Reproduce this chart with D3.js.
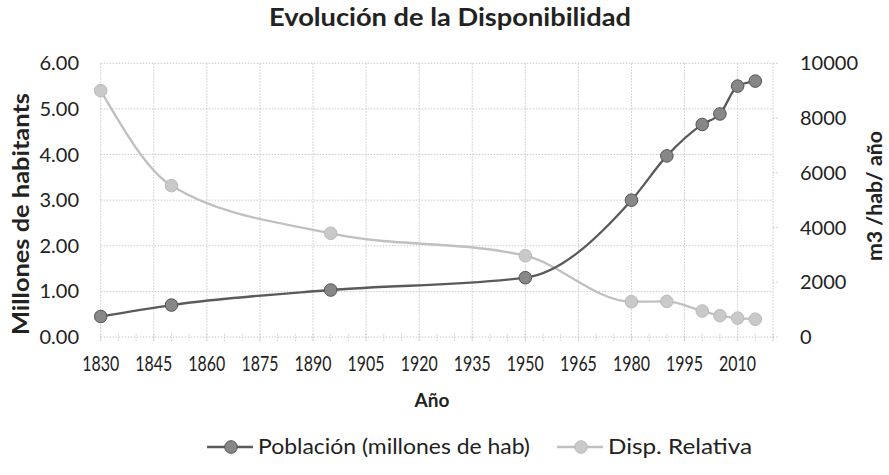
<!DOCTYPE html>
<html><head><meta charset="utf-8">
<script src="https://cdn.jsdelivr.net/npm/d3@7"></script>
<style>body{margin:0;background:#fff}svg{display:block}text{font-family:Lato,"Open Sans",sans-serif;fill:#222}</style>
</head><body>
<svg id="c" width="889" height="475"></svg>
<script>
const years = [1830, 1850, 1895, 1950, 1980, 1990, 2000, 2005, 2010, 2015];
const poblacion = [0.45, 0.70, 1.03, 1.30, 3.00, 3.97, 4.66, 4.89, 5.50, 5.61];
const dispRelativa = [9000, 5530, 3790, 2970, 1290, 1300, 950, 780, 690, 650];
const xTicks = [1830, 1845, 1860, 1875, 1890, 1905, 1920, 1935, 1950, 1965, 1980, 1995, 2010];
const yLeftTicks = [0, 1, 2, 3, 4, 5, 6];
const yRightTicks = [0, 2000, 4000, 6000, 8000, 10000];
const seriesNames = ["Población (millones de hab)", "Disp. Relativa"];

const svg = d3.select("#c");
const L = 100.7, R = 773, T = 63.3, B = 337;
const x = d3.scaleLinear().domain([1830, 2020]).range([L, R]);
const yL = d3.scaleLinear().domain([0, 6]).range([B, T]);
const yR = d3.scaleLinear().domain([0, 10000]).range([B, T]);

const grid = svg.append("g").attr("stroke", "#c8c8c8").attr("stroke-width", 1).attr("stroke-dasharray", "1.5,1.5");
yLeftTicks.forEach(v => grid.append("line").attr("x1", L).attr("x2", R).attr("y1", yL(v)).attr("y2", yL(v)));
xTicks.concat([2020]).forEach(v => grid.append("line").attr("x1", x(v)).attr("x2", x(v)).attr("y1", T).attr("y2", B + 5));
d3.range(1830, 2021, 5).forEach(v => grid.append("line").attr("x1", x(v)).attr("x2", x(v)).attr("y1", B - 3).attr("y2", B + 4));
yRightTicks.forEach(v => grid.append("line").attr("x1", R).attr("x2", R + 5).attr("y1", yR(v)).attr("y2", yR(v)));

// left axis labels
svg.append("g").selectAll("text").data(yLeftTicks).join("text")
  .attr("x", 79).attr("y", d => yL(d)).attr("dy", "0.35em").attr("text-anchor", "end")
  .attr("font-size", 20).text(d => d3.format(".2f")(d));
// right axis labels
svg.append("g").selectAll("text").data(yRightTicks).join("text")
  .attr("x", 800).attr("y", d => yR(d)).attr("dy", "0.35em").attr("text-anchor", "start")
  .attr("font-size", 20).text(d => d);
// x labels
svg.append("g").selectAll("text").data(xTicks).join("text")
  .attr("x", d => x(d)).attr("y", 363).attr("dy", "0.35em").attr("text-anchor", "middle")
  .attr("font-size", 22).attr("textLength", 37).attr("lengthAdjust", "spacingAndGlyphs").text(d => d);

// titles
svg.append("text").attr("x", 450).attr("y", 26).attr("text-anchor", "middle").attr("font-size", 25).attr("font-weight", "bold")
  .attr("textLength", 362).attr("lengthAdjust", "spacingAndGlyphs").text("Evolución de la Disponibilidad");
svg.append("text").attr("x", 432).attr("y", 400).attr("dy", "0.35em").attr("text-anchor", "middle").attr("font-size", 19).attr("font-weight", "bold").text("Año");
svg.append("text").attr("transform", "translate(21,214) rotate(-90)").attr("dy", "0.35em").attr("text-anchor", "middle").attr("font-size", 22).attr("font-weight", "bold")
  .attr("textLength", 242).attr("lengthAdjust", "spacingAndGlyphs").text("Millones de habitants");
svg.append("text").attr("transform", "translate(875,196) rotate(-90)").attr("dy", "0.35em").attr("text-anchor", "middle").attr("font-size", 20).attr("font-weight", "bold")
  .attr("textLength", 130).attr("lengthAdjust", "spacingAndGlyphs").text("m3 /hab/ año");

const curve = d3.curveMonotoneX;
const popData = years.map((y, i) => [y, poblacion[i]]);
const dispData = years.map((y, i) => [y, dispRelativa[i]]);
const styles = [
  {line: "#5a5a5a", fill: "#878787", stroke: "#555"},
  {line: "#c0c0c0", fill: "#c9c9c9", stroke: "#bababa"}
];

svg.append("path").datum(dispData).attr("fill", "none").attr("stroke", styles[1].line).attr("stroke-width", 2.3)
  .attr("d", d3.line().x(d => x(d[0])).y(d => yR(d[1])).curve(curve));
svg.append("g").selectAll("circle").data(dispData).join("circle")
  .attr("cx", d => x(d[0])).attr("cy", d => yR(d[1])).attr("r", 6.3)
  .attr("fill", styles[1].fill).attr("stroke", styles[1].stroke).attr("stroke-width", 1);

svg.append("path").datum(popData).attr("fill", "none").attr("stroke", styles[0].line).attr("stroke-width", 2.3)
  .attr("d", d3.line().x(d => x(d[0])).y(d => yL(d[1])).curve(curve));
svg.append("g").selectAll("circle").data(popData).join("circle")
  .attr("cx", d => x(d[0])).attr("cy", d => yL(d[1])).attr("r", 6.3)
  .attr("fill", styles[0].fill).attr("stroke", styles[0].stroke).attr("stroke-width", 1);

// legend
const legX = [207, 557];
const legW = [272, 144];
seriesNames.forEach((name, i) => {
  const g = svg.append("g");
  g.append("line").attr("x1", legX[i]).attr("x2", legX[i] + 46).attr("y1", 447).attr("y2", 447).attr("stroke", styles[i].line).attr("stroke-width", 2.3);
  g.append("circle").attr("cx", legX[i] + 24).attr("cy", 447).attr("r", 6.3).attr("fill", styles[i].fill).attr("stroke", styles[i].stroke);
  g.append("text").attr("x", legX[i] + 51).attr("y", 447).attr("dy", "0.35em").attr("font-size", 21)
    .attr("textLength", legW[i]).attr("lengthAdjust", "spacingAndGlyphs").text(name);
});
</script>
</body></html>
